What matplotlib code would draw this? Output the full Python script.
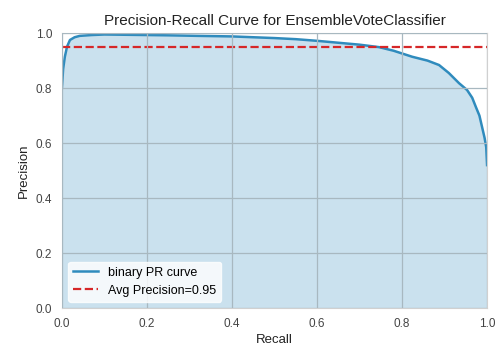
import matplotlib
matplotlib.use('Agg')
import matplotlib.pyplot as plt
import numpy as np

# values
recall = [0.0, 0.003, 0.007, 0.012, 0.019, 0.03, 0.042, 0.07, 0.1, 0.15, 0.2, 0.25, 0.32,
          0.4, 0.45, 0.5, 0.55, 0.6, 0.65, 0.7, 0.746, 0.78, 0.824, 0.86, 0.887, 0.91,
          0.934, 0.953, 0.965, 0.974, 0.982, 0.988, 0.994, 0.998, 1.0]
precision = [0.80, 0.87, 0.914, 0.95, 0.975, 0.985, 0.99, 0.993, 0.995, 0.994, 0.993, 0.992, 0.99,
             0.988, 0.985, 0.982, 0.978, 0.972, 0.965, 0.958, 0.949, 0.936, 0.914, 0.9, 0.884, 0.855,
             0.818, 0.793, 0.765, 0.73, 0.7, 0.66, 0.62, 0.585, 0.52]
avg_precision = 0.95

plt.rcParams['font.family'] = ['Liberation Sans', 'DejaVu Sans']

fig = plt.figure(figsize=(4.95, 3.45), dpi=100)
ax = fig.add_axes([0.125, 0.107, 0.859, 0.797])

line_color = '#2f8bbd'
ax.fill_between(recall, precision, color=line_color, alpha=0.25, linewidth=0)
ax.plot(recall, precision, color=line_color, linewidth=1.8, label='binary PR curve')
ax.axhline(avg_precision, color='#d62728', linestyle='--', linewidth=1.6,
           label='Avg Precision={:0.2f}'.format(avg_precision))

ax.set_xlim(0, 1)
ax.set_ylim(0, 1.0)
ax.set_xticks(np.arange(0, 1.01, 0.2))
ax.set_yticks(np.arange(0, 1.01, 0.2))
ax.grid(True, color='#a8b8c0', linewidth=0.9)
ax.set_axisbelow(False)
for s in ax.spines.values():
    s.set_color('#d0d0d0')
ax.tick_params(length=0, labelsize=8.5, colors='#444444', pad=7)

ax.set_title('Precision-Recall Curve for EnsembleVoteClassifier', fontsize=11, color='#222222')
ax.set_xlabel('Recall', fontsize=9.5, color='#222222', labelpad=3)
ax.set_ylabel('Precision', fontsize=9.5, color='#222222')
leg = ax.legend(loc='lower left', frameon=True, fontsize=9)
leg.get_frame().set_facecolor('white')
leg.get_frame().set_alpha(0.8)
leg.get_frame().set_edgecolor('white')

fig.savefig('out.png', dpi=100)
